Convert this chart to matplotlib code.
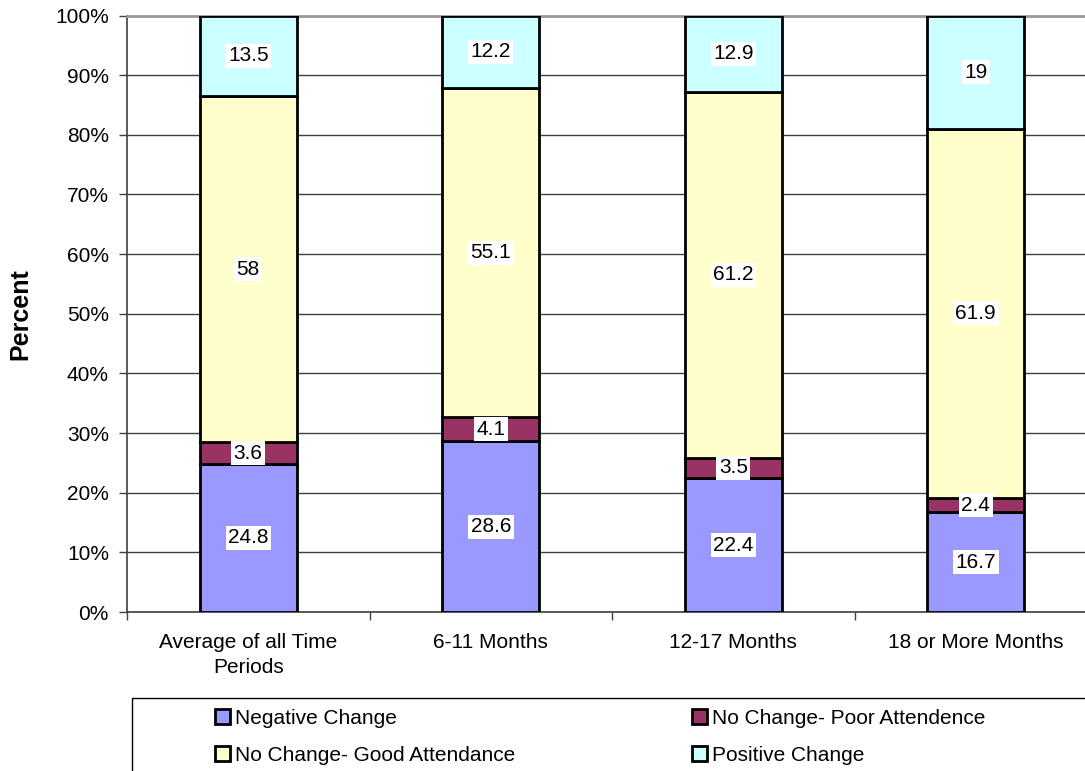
import matplotlib
matplotlib.use("Agg")
import matplotlib.pyplot as plt
from matplotlib.patches import Rectangle
import numpy as np

plt.rcParams["font.family"] = ["Liberation Sans", "DejaVu Sans"]

categories = ["Average of all Time\nPeriods", "6-11 Months", "12-17 Months", "18 or More Months"]
negative = [24.8, 28.6, 22.4, 16.7]
poor = [3.6, 4.1, 3.5, 2.4]
good = [58, 55.1, 61.2, 61.9]
positive = [13.5, 12.2, 12.9, 19]

series = [
    ("Negative Change", negative, "#9999FF"),
    ("No Change- Poor Attendence", poor, "#993366"),
    ("No Change- Good Attendance", good, "#FFFFCC"),
    ("Positive Change", positive, "#CCFFFF"),
]

W, H = 1085, 771
fig = plt.figure(figsize=(W / 100, H / 100), dpi=100)
ax = fig.add_axes([127 / W, 1 - 612 / H, 970 / W, (612 - 15.5) / H])

x = np.arange(len(categories))
totals = np.sum([s[1] for s in series], axis=0)
bottom = np.zeros(len(categories))
handles = {}
for name, vals, color in series:
    pct = np.array(vals) / totals * 100
    bars = ax.bar(x, pct, 0.4, bottom=bottom, color=color, edgecolor="black",
                  linewidth=2.0, zorder=3, label=name)
    handles[name] = bars
    for xi, b, p, v in zip(x, bottom, pct, vals):
        ax.text(xi, b + p / 2, "{:g}".format(v), ha="center", va="center", fontsize=15,
                zorder=5, bbox=dict(boxstyle="square,pad=0.12", fc="white", ec="none"))
    bottom += pct

ax.set_xlim(-0.5, len(categories) - 0.5)
ax.set_ylim(0, 100)
ax.set_yticks(np.arange(0, 101, 10))
ax.set_yticklabels(["{}%".format(v) for v in range(0, 101, 10)])
ax.yaxis.grid(True, color="#404040", linewidth=1.0, zorder=0)
ax.set_xticks(x)
ax.set_xticklabels(categories, linespacing=1.4)
ax.set_xticks(np.arange(-0.5, len(categories), 1), minor=True)
ax.tick_params(axis="x", which="major", length=0, pad=15, labelsize=15)
ax.tick_params(axis="x", which="minor", length=6, width=1, color="#404040")
ax.tick_params(axis="y", length=6, width=1, color="#404040", pad=7, labelsize=15)

for s in ["left", "bottom"]:
    ax.spines[s].set_color("#404040")
    ax.spines[s].set_linewidth(1.2)
ax.spines["top"].set_color("#999999")
ax.spines["top"].set_linewidth(2)
ax.spines["right"].set_visible(False)

ax.set_ylabel("Percent", fontsize=18, fontweight="bold")
ax.yaxis.set_label_coords(-0.098, 0.5)

# legend frame (runs past the right and bottom edges)
fig.add_artist(Rectangle((132 / W, -0.1), 1.0, 0.1 + 1 - 698 / H, transform=fig.transFigure,
                         fill=False, edgecolor="black", linewidth=1.0))

leg_kw = dict(loc="upper left", frameon=False, fontsize=15, handlelength=0.72,
              handleheight=0.72, handletextpad=0.25, labelspacing=0.85,
              borderpad=0, borderaxespad=0)
col1 = ["Negative Change", "No Change- Good Attendance"]
col2 = ["No Change- Poor Attendence", "Positive Change"]
fig.legend([handles[n] for n in col1], col1, bbox_to_anchor=(215 / W, 1 - 709 / H), **leg_kw)
fig.legend([handles[n] for n in col2], col2, bbox_to_anchor=(692 / W, 1 - 709 / H), **leg_kw)

fig.savefig("out.png", dpi=100, facecolor="white")
